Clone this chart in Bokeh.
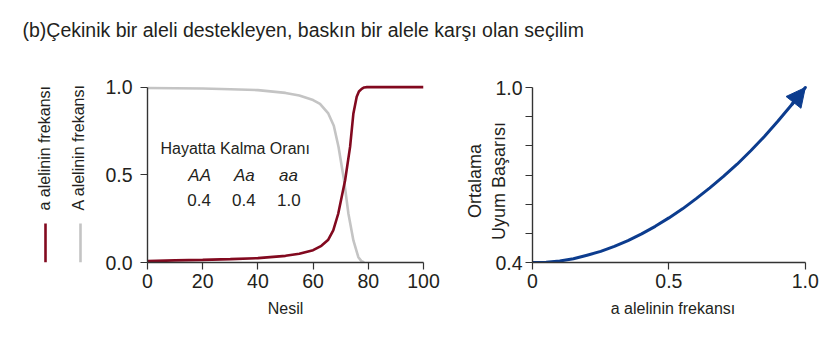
import math
from bokeh.plotting import figure
from bokeh.models import Range1d, FixedTicker, Label, Arrow, NormalHead
from bokeh.layouts import column, row
from bokeh.embed import file_html
from bokeh.resources import INLINE

# ---------------- data ----------------
TITLE = "(b)Çekinik bir aleli destekleyen, baskın bir alele karşı olan seçilim"

# left panel: allele frequencies over generations
gen_A = [0, 10, 20, 30, 40, 50, 55, 60, 62.5, 65.5, 67.5, 69.2, 71.2, 72.8, 74.6, 76.4, 77.5, 78.5]
freq_A = [0.995, 0.994, 0.992, 0.988, 0.983, 0.967, 0.952, 0.926, 0.905, 0.85, 0.78, 0.66, 0.47, 0.278, 0.126, 0.03, 0.008, 0.0]

gen_a = [0, 10, 20, 30, 40, 50, 55, 60, 63, 65.5, 67.3, 69.1, 71.6, 73.4, 74.6, 75.8, 76.6, 77.6, 78.5, 79.5, 100]
freq_a = [0.008, 0.012, 0.015, 0.019, 0.025, 0.038, 0.05, 0.07, 0.095, 0.13, 0.183, 0.278, 0.469, 0.659, 0.85, 0.945, 0.975, 0.99, 0.998, 1.0, 1.0]

gen_ticks = [0, 20, 40, 60, 80, 100]
gen_tick_labels = ["0", "20", "40", "60", "80", "100"]
freq_ticks = [0.0, 0.5, 1.0]
freq_tick_labels = ["0.0", "0.5", "1.0"]

series_names = ["a alelinin frekansı", "A alelinin frekansı"]

survival_title = "Hayatta Kalma Oranı"
genotypes = ["AA", "Aa", "aa"]
survival = [0.4, 0.4, 1.0]

# right panel: mean fitness vs frequency of a
q_a = [0.0, 0.05, 0.1, 0.15, 0.2, 0.25, 0.3, 0.35, 0.4, 0.45, 0.5, 0.55, 0.6, 0.65,
       0.7, 0.75, 0.8, 0.85, 0.9, 0.95, 1.0]
w_mean = [0.400, 0.401, 0.405, 0.413, 0.425, 0.438, 0.455, 0.475, 0.498, 0.524, 0.553,
          0.584, 0.619, 0.656, 0.695, 0.737, 0.783, 0.832, 0.885, 0.941, 1.0]

q_ticks = [0.0, 0.5, 1.0]
q_tick_labels = ["0", "0.5", "1.0"]
w_major = [0.4, 1.0]
w_major_labels = ["0.4", "1.0"]
w_minor = [0.5, 0.6, 0.7, 0.8, 0.9]

# ---------------- style ----------------
FONT = "Liberation Sans"
TXT = "#231f20"
AX = "#333333"
RED = "#82091f"
GRAY = "#c4c4c4"
BLUE = "#0c3c8e"
TICK_FS = "19.5px"
AXLAB_FS = "16px"
B_TOP, B_BOT, F_H = 34, 79, 178   # shared vertical borders/frame height of the panel row


def style_axes(p, standoff_y):
    for ax in (p.xaxis[0], p.yaxis[0]):
        ax.axis_line_color = AX
        ax.axis_line_width = 1.4
        ax.major_tick_line_color = AX
        ax.major_tick_line_width = 1.2
        ax.major_tick_out = 7
        ax.major_tick_in = 0
        ax.minor_tick_line_color = None
        ax.major_label_text_font = FONT
        ax.major_label_text_font_size = TICK_FS
        ax.major_label_text_color = TXT
        ax.axis_label_text_font = FONT
        ax.axis_label_text_font_size = AXLAB_FS
        ax.axis_label_text_font_style = "normal"
        ax.axis_label_text_color = TXT
    p.xaxis[0].major_label_standoff = 4
    p.xaxis[0].axis_label_standoff = 9
    p.yaxis[0].major_label_standoff = standoff_y
    p.grid.visible = False
    p.outline_line_color = None
    p.background_fill_color = "white"
    p.border_fill_color = "white"


# ---------------- title strip ----------------
tf = figure(width=825, height=50, x_range=Range1d(0, 825), y_range=Range1d(0, 50),
            x_axis_type=None, y_axis_type=None, toolbar_location=None, title=None,
            output_backend="svg", min_border=0)
tf.outline_line_color = None
tf.grid.visible = False
tf.add_layout(Label(x=22, y=21, text=TITLE, text_font=FONT, text_font_size="19.5px",
                    text_color=TXT, text_baseline="alphabetic", text_align="left"))

# ---------------- legend strip (left of the first panel) ----------------
# frame aligned with the panels; ranges chosen so data units equal page pixels
lf = figure(frame_width=95, frame_height=F_H, x_range=Range1d(0, 95),
            y_range=Range1d(262, 262 - F_H),
            x_axis_type=None, y_axis_type=None, toolbar_location=None, title=None,
            output_backend="svg", min_border_left=0, min_border_right=0,
            min_border_top=B_TOP, min_border_bottom=B_BOT)
lf.outline_line_color = None
lf.grid.visible = False
leg_text_x = [44, 78]
leg_line_x = [45, 80]
for name, col, tx, lx in zip(series_names, [RED, GRAY], leg_text_x, leg_line_x):
    lf.add_layout(Label(x=tx, y=210, text=name, angle=math.pi / 2, text_align="left",
                        text_baseline="middle", text_font=FONT, text_font_size=AXLAB_FS,
                        text_color=TXT))
    lf.segment(x0=[lx], y0=[223], x1=[lx], y1=[262], line_color=col, line_width=2.6)

# ---------------- left panel ----------------
p1 = figure(frame_width=276, frame_height=F_H,
            x_range=Range1d(0, 100), y_range=Range1d(0, 1.015),
            min_border_left=52, min_border_right=32, min_border_top=B_TOP, min_border_bottom=B_BOT,
            toolbar_location=None, output_backend="svg")
style_axes(p1, 8)
p1.xaxis[0].ticker = FixedTicker(ticks=gen_ticks)
p1.xaxis[0].major_label_overrides = dict(zip(gen_ticks, gen_tick_labels))
p1.xaxis[0].axis_label = "Nesil"
p1.yaxis[0].ticker = FixedTicker(ticks=freq_ticks)
p1.yaxis[0].major_label_overrides = dict(zip(freq_ticks, freq_tick_labels))
p1.yaxis[0].bounds = (0, 1)

p1.line(gen_A, freq_A, line_color=GRAY, line_width=2.6)
p1.line(gen_a, freq_a, line_color=RED, line_width=2.6)

# survival table
p1.add_layout(Label(x=4.7, y=0.651, text=survival_title, text_font=FONT,
                    text_font_size="16px", text_color=TXT, text_align="left",
                    text_baseline="alphabetic"))
for g, s, gx, sxp in zip(genotypes, survival, [18.9, 35.1, 51.1], [18.7, 34.9, 51.2]):
    p1.add_layout(Label(x=gx, y=0.497, text=g, text_font=FONT, text_font_size="17px",
                        text_font_style="italic", text_color=TXT, text_align="center",
                        text_baseline="alphabetic"))
    p1.add_layout(Label(x=sxp, y=0.354, text=f"{s:.1f}", text_font=FONT, text_font_size="17px",
                        text_color=TXT, text_align="center", text_baseline="alphabetic"))

# ---------------- right panel ----------------
p2 = figure(frame_width=281, frame_height=F_H,
            x_range=Range1d(0, 1.03), y_range=Range1d(0.4, 1.0103),
            min_border_left=77, min_border_right=12, min_border_top=B_TOP, min_border_bottom=B_BOT,
            toolbar_location=None, output_backend="svg")
style_axes(p2, 3)
p2.xaxis[0].ticker = FixedTicker(ticks=q_ticks)
p2.xaxis[0].major_label_overrides = dict(zip(q_ticks, q_tick_labels))
p2.xaxis[0].axis_label = "a alelinin frekansı"
p2.xaxis[0].bounds = (0, 1)
p2.yaxis[0].ticker = FixedTicker(ticks=w_major, minor_ticks=w_minor)
p2.yaxis[0].major_label_overrides = dict(zip(w_major, w_major_labels))
p2.yaxis[0].minor_tick_line_color = AX
p2.yaxis[0].minor_tick_line_width = 1.2
p2.yaxis[0].minor_tick_out = 7
p2.yaxis[0].minor_tick_in = 0
p2.yaxis[0].bounds = (0.4, 1.0)
p2.yaxis[0].axis_label = "Ortalama\u00a0\u00a0\u00a0\nUyum Başarısı\u00a0\u00a0\u00a0"
p2.yaxis[0].axis_label_text_font_size = "18px"
p2.yaxis[0].axis_label_standoff = -17

p2.line(q_a, w_mean, line_color=BLUE, line_width=3, line_cap="round", line_join="round")
p2.add_layout(Arrow(end=NormalHead(size=19, fill_color=BLUE, line_color=BLUE),
                    x_start=q_a[-2], y_start=w_mean[-2], x_end=q_a[-1], y_end=w_mean[-1],
                    line_color=BLUE, line_width=3))

layout = column(tf, row(lf, p1, p2, spacing=0), spacing=0)

open("out.html", "w").write(file_html(layout, INLINE))
